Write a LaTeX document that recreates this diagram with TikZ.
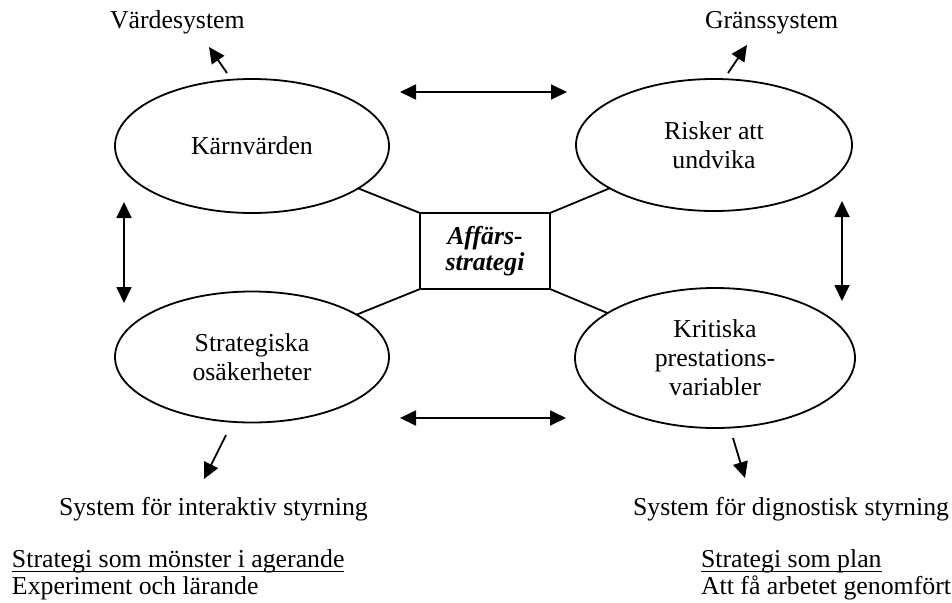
\documentclass[tikz,border=0pt]{standalone}
\usepackage{fontspec}
\setmainfont{Liberation Serif}
\usetikzlibrary{arrows.meta,shapes.geometric}
\begin{document}
\begin{tikzpicture}[x=1pt,y=-1pt,
  every node/.style={inner sep=0pt, outer sep=0pt, font=\fontsize{25.8}{29}\selectfont},
  area/.style={ellipse, draw, line width=1.8pt, align=center},
  core/.style={rectangle, draw, line width=1.8pt, align=center,
    minimum width=130pt, minimum height=76pt,
    font=\fontsize{25.8}{26}\selectfont\bfseries\itshape},
  link/.style={line width=1.8pt},
  tip/.style={Triangle[length=16pt,width=15pt]},
  arr/.style={line width=1.8pt, -{Triangle[length=16pt,width=15pt]}},
  biarr/.style={line width=1.8pt,
    {Triangle[length=16pt,width=15pt]}-{Triangle[length=16pt,width=15pt]}},
  lbl/.style={anchor=base west},
  uline/.style={line width=1.4pt}
]
\useasboundingbox (0,0) rectangle (952,602);

% the four control levers around the strategy
\node[area, minimum width=274pt, minimum height=134pt] (kv) at (252,146) {Kärnvärden};
\node[area, minimum width=276pt, minimum height=132pt] (rk) at (714,145) {Risker att\\undvika};
\node[area, minimum width=274pt, minimum height=131pt] (so) at (252,357) {Strategiska\\osäkerheter};
\node[area, minimum width=280pt, minimum height=140pt] (kp) at (715,358) {Kritiska\\prestations-\\variabler};

% business strategy in the middle
\node[core] (as) at (485,251) {Affärs-\\strategi};

\draw[link] (as.north west) -- (kv);
\draw[link] (as.north east) -- (rk);
\draw[link] (as.south west) -- (so);
\draw[link] (as.south east) -- (kp);

% tension arrows between the levers
\coordinate (th-l) at (400,92);  \coordinate (th-r) at (567,92);
\coordinate (bh-l) at (400,418); \coordinate (bh-r) at (566,418);
\coordinate (lv-t) at (124,202); \coordinate (lv-b) at (124,303);
\coordinate (rv-t) at (842,201); \coordinate (rv-b) at (842,301);
\draw[biarr] (th-l) -- (th-r);
\draw[biarr] (bh-l) -- (bh-r);
\draw[biarr] (lv-t) -- (lv-b);
\draw[biarr] (rv-t) -- (rv-b);

% system labels
\node[lbl] (vs) at (110,29) {Värdesystem};
\node[lbl] (gs) at (705,29) {Gränssystem};
\node[lbl] (ia) at (59,515) {System för interaktiv styrning};
\node[lbl] (di) at (633,515) {System för dignostisk styrning};

\coordinate (vs-from) at (227,73); \coordinate (vs-to) at (209,47);
\coordinate (gs-from) at (728,73); \coordinate (gs-to) at (747,45);
\coordinate (ia-from) at (226,435); \coordinate (ia-to) at (204,479);
\coordinate (di-from) at (733,438); \coordinate (di-to) at (745,478);
\draw[arr] (vs-from) -- (vs-to);
\draw[arr] (gs-from) -- (gs-to);
\draw[arr] (ia-from) -- (ia-to);
\draw[arr] (di-from) -- (di-to);

% strategy notes
\node[lbl] (m-head) at (12,567) {Strategi som mönster i agerande};
\node[lbl] (m-text) at (12,594) {Experiment och lärande};
\node[lbl] (p-head) at (701,567) {Strategi som plan};
\node[lbl] (p-text) at (701,594) {Att få arbetet genomfört};
\draw[uline] ([yshift=-4.5pt]m-head.base west) -- ([yshift=-4.5pt]m-head.base east);
\draw[uline] ([yshift=-4.5pt]p-head.base west) -- ([yshift=-4.5pt]p-head.base east);
\end{tikzpicture}
\end{document}
